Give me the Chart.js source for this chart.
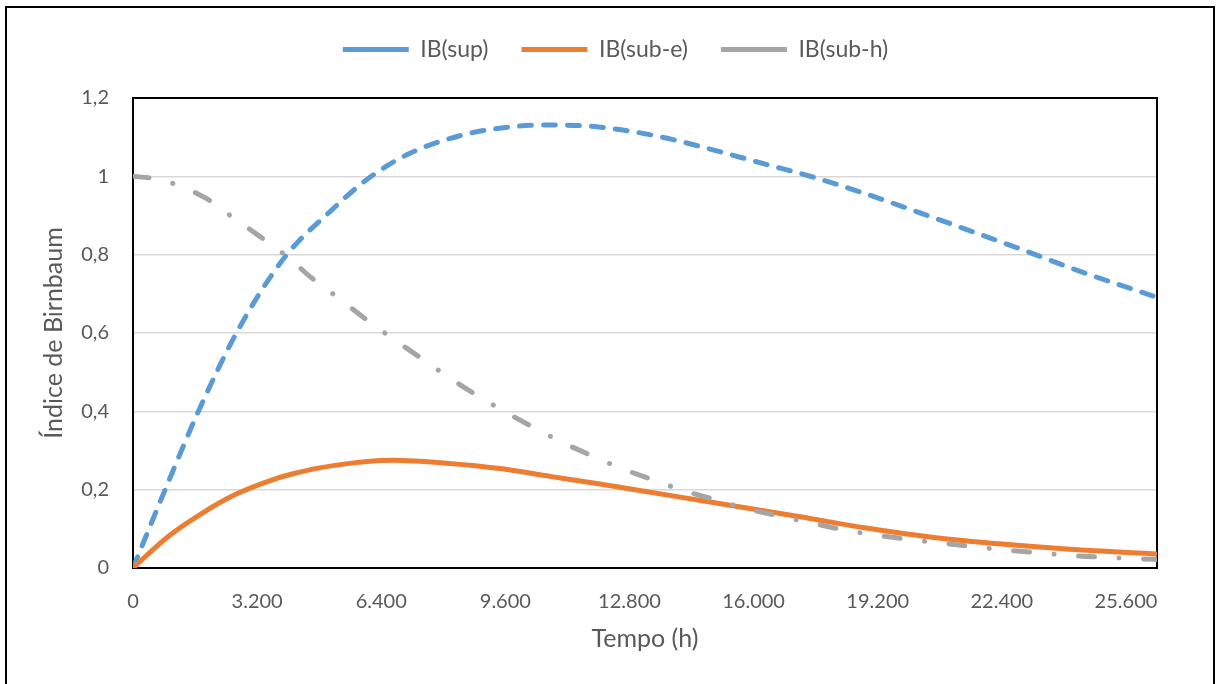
<!DOCTYPE html>
<html>
<head>
<meta charset="utf-8">
<script src="https://cdn.jsdelivr.net/npm/chart.js@4/dist/chart.umd.min.js"></script>
<style>
  html, body { margin: 0; padding: 0; background: #fff; }
  #wrap { width: 1216px; height: 684px; }
</style>
</head>
<body>
<div id="wrap"><canvas id="birnbaumChart" width="1216" height="684"></canvas></div>
<script>
// IB(sup)
const supHours = [0, 900, 1700, 2700, 3900, 5100, 6100, 7100, 8400, 9700, 10800, 12000, 13500, 14900, 16300, 17500, 18900, 20400, 21800, 23000, 24400, 26400];
const supVals = [0, 0.217, 0.403, 0.606, 0.792, 0.912, 0.997, 1.057, 1.103, 1.126, 1.131, 1.126, 1.103, 1.069, 1.031, 0.999, 0.955, 0.903, 0.853, 0.810, 0.758, 0.691];

// IB(sub-e)
const subEHours = [0, 900, 1800, 2650, 3500, 4100, 5200, 6700, 8150, 9450, 10750, 12000, 13300, 14600, 15900, 17200, 18900, 20650, 22400, 24150, 26400];
const subEVals = [0, 0.080, 0.141, 0.188, 0.222, 0.240, 0.262, 0.275, 0.267, 0.254, 0.234, 0.215, 0.194, 0.173, 0.152, 0.131, 0.102, 0.078, 0.061, 0.048, 0.036];

// IB(sub-h)
const subHHours = [0, 500, 1050, 1900, 2550, 3250, 3950, 4600, 5250, 5950, 6650, 7350, 8050, 8750, 9500, 10250, 11000, 11750, 12550, 13350, 14150, 14950, 15800, 16650, 17450, 18300, 19150, 20000, 20900, 21700, 22600, 23450, 24300, 25150, 26000, 26400];
const subHVals = [1.0, 0.995, 0.981, 0.943, 0.897, 0.848, 0.797, 0.741, 0.693, 0.639, 0.589, 0.541, 0.493, 0.448, 0.404, 0.363, 0.324, 0.290, 0.256, 0.227, 0.199, 0.176, 0.152, 0.133, 0.116, 0.098, 0.084, 0.073, 0.063, 0.054, 0.045, 0.038, 0.031, 0.027, 0.023, 0.022];

const seriesNames = ['IB(sup)', 'IB(sub-e)', 'IB(sub-h)'];

const xMax = 26400;
const xTicks = [0, 3200, 6400, 9600, 12800, 16000, 19200, 22400, 25600];
const yTicks = [0, 0.2, 0.4, 0.6, 0.8, 1, 1.2];

const textColor = '#595959';
const fontFamily = 'Lato, "Noto Sans", sans-serif';

function toPoints(xs, ys) {
    return xs.map((x, i) => ({ x: x, y: ys[i] }));
}

// thousands with a dot, decimals with a comma
function fmtThousands(v) {
    return String(Math.round(v)).replace(/\B(?=(\d{3})+(?!\d))/g, '.');
}
function fmtDecimal(v) {
    return String(Math.round(v * 10) / 10).replace('.', ',');
}

// outer frame + plot area box
const frames = {
    id: 'frames',
    beforeDraw(chart) {
        const ctx = chart.ctx;
        ctx.save();
        ctx.strokeStyle = '#000';
        ctx.lineWidth = 2;
        ctx.strokeRect(6, 7, 1208, 700);
        ctx.restore();
    },
    beforeDatasetsDraw(chart) {
        const { ctx, chartArea: a } = chart;
        ctx.save();
        ctx.strokeStyle = '#000';
        ctx.lineWidth = 2;
        ctx.strokeRect(a.left, a.top, a.right - a.left, a.bottom - a.top);
        ctx.restore();
    }
};

// extra room under the legend, and nudge it to the right
const legendSpacing = {
    id: 'legendSpacing',
    beforeInit(chart) {
        const legend = chart.legend;
        const fit = legend.fit;
        legend.fit = function () {
            fit.bind(legend)();
            this.height += 27;
        };
    },
    afterLayout(chart) {
        chart.legend.left += 37;
        chart.legend.right += 37;
    }
};

new Chart(document.getElementById('birnbaumChart'), {
    type: 'line',
    data: {
        datasets: [
            {
                label: seriesNames[0],
                data: toPoints(supHours, supVals),
                borderColor: '#5B9BD5',
                backgroundColor: '#5B9BD5',
                borderWidth: 5,
                borderDash: [12, 12],
                borderCapStyle: 'round',
                cubicInterpolationMode: 'monotone',
                pointRadius: 0,
                order: 3
            },
            {
                label: seriesNames[1],
                data: toPoints(subEHours, subEVals),
                borderColor: '#ED7D31',
                backgroundColor: '#ED7D31',
                borderWidth: 5,
                borderCapStyle: 'round',
                cubicInterpolationMode: 'monotone',
                pointRadius: 0,
                order: 2
            },
            {
                label: seriesNames[2],
                data: toPoints(subHHours, subHVals),
                borderColor: '#A5A5A5',
                backgroundColor: '#A5A5A5',
                borderWidth: 5,
                borderDash: [16, 24.5, 0.1, 24.5],
                borderCapStyle: 'round',
                cubicInterpolationMode: 'monotone',
                pointRadius: 0,
                order: 1
            }
        ]
    },
    options: {
        responsive: false,
        animation: false,
        devicePixelRatio: 1,
        layout: { padding: { top: 5, right: 59, bottom: 0, left: 0 } },
        plugins: {
            legend: {
                position: 'top',
                labels: {
                    usePointStyle: true,
                    pointStyle: 'line',
                    pointStyleWidth: 66,
                    padding: 33,
                    color: textColor,
                    font: { family: fontFamily, size: 23 },
                    sort: (a, b) => a.datasetIndex - b.datasetIndex
                }
            },
            tooltip: { enabled: false }
        },
        scales: {
            x: {
                type: 'linear',
                min: 0,
                max: xMax,
                afterFit(scale) { scale.height = 116; },
                afterBuildTicks(scale) { scale.ticks = xTicks.map(v => ({ value: v })); },
                ticks: {
                    padding: 22,
                    color: textColor,
                    font: { family: fontFamily, size: 20 },
                    maxRotation: 0,
                    autoSkip: false,
                    callback: v => fmtThousands(v)
                },
                grid: { display: false, drawTicks: false },
                border: { display: false },
                title: {
                    display: true,
                    text: 'Tempo (h)',
                    color: textColor,
                    font: { family: fontFamily, size: 25 },
                    padding: { top: 0, bottom: 30 }
                }
            },
            y: {
                min: 0,
                max: 1.2,
                afterFit(scale) { scale.width = 133; },
                afterBuildTicks(scale) { scale.ticks = yTicks.map(v => ({ value: v })); },
                ticks: {
                    padding: 24,
                    color: textColor,
                    font: { family: fontFamily, size: 20 },
                    callback: v => fmtDecimal(v)
                },
                grid: { color: '#D9D9D9', lineWidth: 1.5, drawTicks: false },
                border: { display: false },
                title: {
                    display: true,
                    text: 'Índice de Birnbaum',
                    color: textColor,
                    font: { family: fontFamily, size: 25 },
                    padding: { top: 39, bottom: 0 }
                }
            }
        }
    },
    plugins: [frames, legendSpacing]
});
</script>
</body>
</html>
